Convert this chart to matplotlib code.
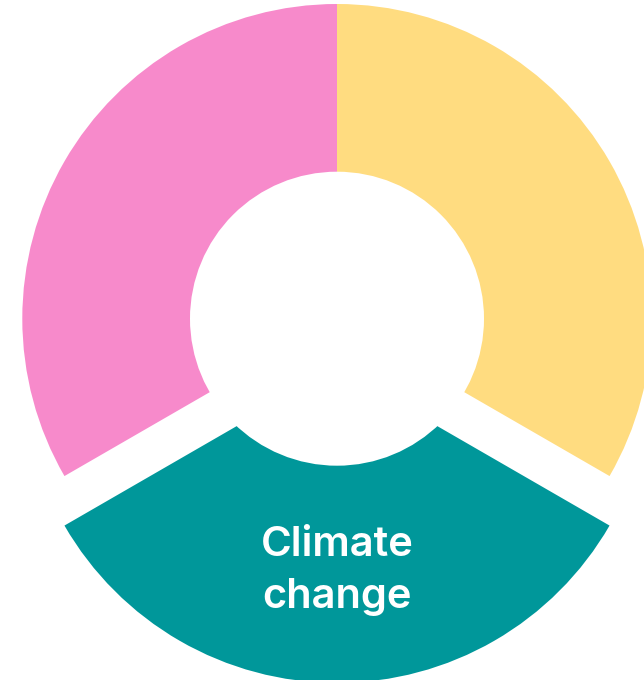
import matplotlib.pyplot as plt
from matplotlib.patches import Circle

# three equal segments, clockwise from the top
labels = ["", "Climate\nchange", ""]
values = [1, 1, 1]
colors = ["#FFDC80", "#00979A", "#F78ACB"]
explode = [0, 49.5, 0]  # pie offsets in data units here (pixels)

fig = plt.figure(figsize=(6.44, 6.80), dpi=100)
ax = fig.add_axes([0, 0, 1, 1])

cx, cy = 337, 361.3
radius = 314.7
ax.pie(values, colors=colors, explode=explode, startangle=90, counterclock=False,
       center=(cx, cy), radius=radius, frame=True,
       wedgeprops=dict(linewidth=0))
ax.set_xlim(0, 644)
ax.set_ylim(0, 680)
ax.set_aspect("equal")
ax.axis("off")

# hole in the middle (same circle cuts the exploded segment)
ax.add_patch(Circle((cx, cy), 147, facecolor="white", edgecolor="none", zorder=5))

ax.text(cx, 680 - 571, labels[1], ha="center", va="center", color="white",
        fontsize=30, fontweight="semibold", family=["Inter", "DejaVu Sans"],
        linespacing=1.45, zorder=6)

plt.savefig("out.png", dpi=100)
